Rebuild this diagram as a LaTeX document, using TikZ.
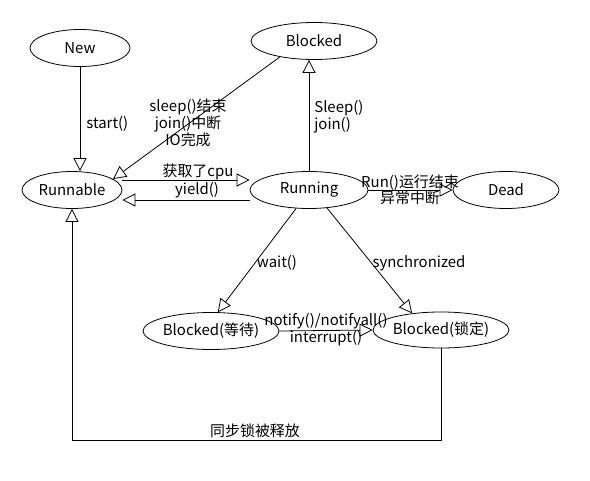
\documentclass[tikz,border=0pt]{standalone}
\usepackage{fontspec}
\setmainfont{Noto Sans CJK SC}
\usetikzlibrary{arrows.meta,shapes.geometric}
\tikzset{
	stnode/.style={ellipse, draw, line width=0.45pt, inner sep=0pt, minimum height=0.74cm, font=\fontsize{8.5}{10}\selectfont},
	trans/.style={-{Triangle[open, length=0.26cm, width=0.26cm]}, line width=0.45pt},
	lbl/.style={font=\fontsize{8.5}{9.5}\selectfont, align=center, inner sep=0pt}
}

\begin{document}
\begin{tikzpicture}
		%%%%% START %%%%%
		\useasboundingbox (0, 0) rectangle (11.8, 9.6);
		
		\node[stnode, minimum width=2.0cm] (new) at (1.6, 8.64) {New};
		\node[stnode, minimum width=2.52cm] (blocked) at (6.28, 8.78) {Blocked};
		\node[stnode, minimum width=2.0cm] (runnable) at (1.44, 5.8) {Runnable};
		\node[stnode, minimum width=2.36cm] (running) at (6.18, 5.8) {Running};
		\node[stnode, minimum width=2.12cm] (dead) at (10.12, 5.8) {Dead};
		\node[stnode, minimum width=2.4cm] (waitb) at (4.22, 2.98) {Blocked(等待)};
		\node[stnode, minimum width=2.4cm, minimum height=0.72cm] (lockb) at (8.82, 3.0) {Blocked(锁定)};
		
		\draw[trans] (new.south) -- (new.south |- runnable.north);
		\draw[trans] (blocked.205) -- (runnable.15);
		\draw[trans] ([yshift=0.2cm]runnable.east) -- ([yshift=0.2cm]running.west);
		\draw[trans] ([yshift=-0.2cm]running.west) -- ([yshift=-0.2cm]runnable.east);
		\draw[trans] (running.north) -- (running.north |- blocked.south);
		\draw[trans] (running.east) -- (dead.west);
		\draw[trans] (running.235) -- (waitb.70);
		\draw[trans] (running.-45) -- (lockb.150);
		\draw[trans] (waitb.east) -- (lockb.west);
		
		\coordinate (rel) at (8.82, 0.8);
		\draw[trans] (lockb.south) -- (lockb.south |- rel) -| (runnable.south);
		
		\node[lbl, anchor=west] (lstart) at (1.72, 7.12) {start()};
		\node[lbl] (lwake) at (3.76, 7.14) {sleep()结束\\join()中断\\IO完成};
		\node[lbl] (lcpu) at (3.96, 6.16) {获取了cpu};
		\node[lbl] (lyield) at (3.94, 5.8) {yield()};
		\node[lbl, anchor=west, align=left] (lsleep) at (6.28, 7.26) {Sleep()\\join()};
		\node[lbl] (lend) at (8.2, 5.8) {Run()运行结束\\异常中断};
		\node[lbl] (lwait) at (5.54, 4.34) {wait()};
		\node[lbl] (lsync) at (8.38, 4.34) {synchronized};
		\node[lbl] (lnotify) at (6.52, 3.18) {notify()/notifyall()};
		\node[lbl] (lintr) at (6.52, 2.84) {interrupt()};
		\node[lbl] (lfree) at (5.1, 0.98) {同步锁被释放};
		
		%%%%% END %%%%%
	\end{tikzpicture}
\end{document}
